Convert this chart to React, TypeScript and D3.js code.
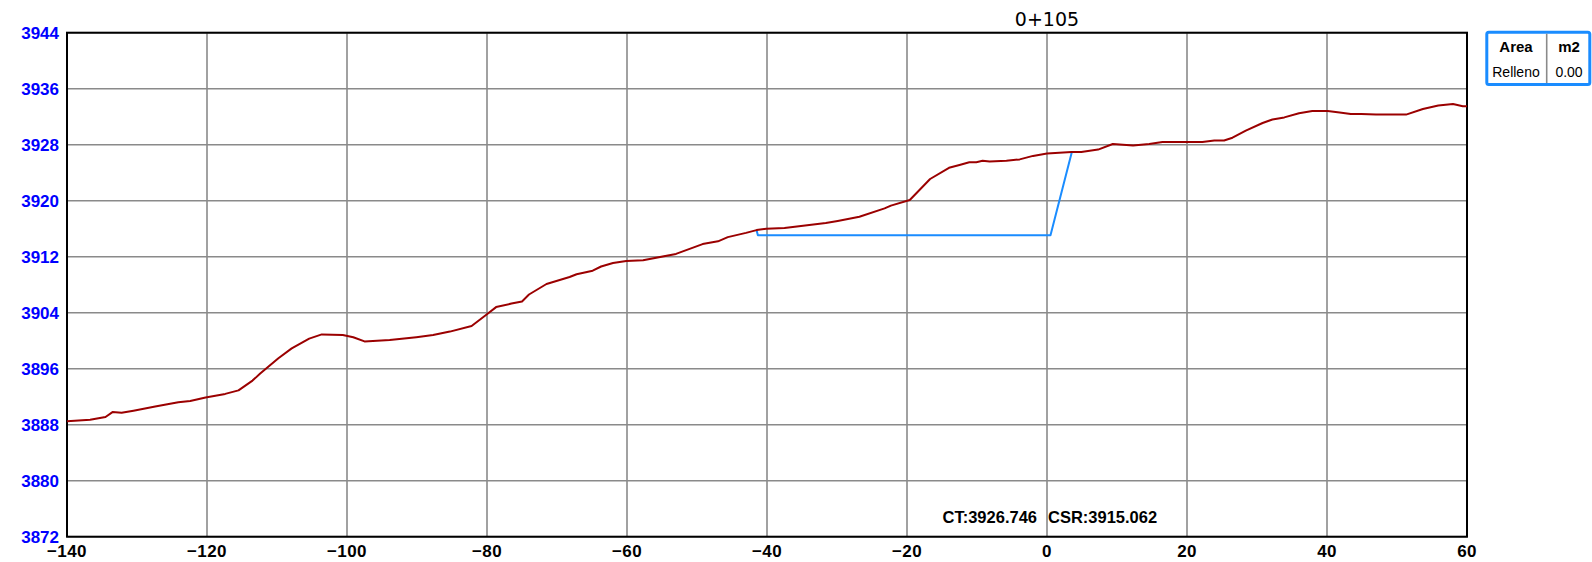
import React from "react";
import * as d3 from "d3";

const xTicks = [-140, -120, -100, -80, -60, -40, -20, 0, 20, 40, 60];
const yTicks = [3872, 3880, 3888, 3896, 3904, 3912, 3920, 3928, 3936, 3944];

const groundX = [
  -140, -136.7, -134.5, -133.5, -132.2, -130.5, -127.4, -124.1, -122.4, -120.2,
  -117.4, -115.5, -113.5, -112.4, -109.8, -107.9, -105.4, -103.6, -100.6, -99.1,
  -97.5, -93.9, -90.1, -87.7, -85.3, -82.2, -80.1, -78.7, -76.5, -75.0,
  -74.0, -71.5, -68.2, -67.2, -64.9, -63.7, -62.0, -60.1, -57.7, -53.0,
  -49.2, -47.0, -45.6, -43.0, -41.5, -40.1, -37.5, -31.6, -29.9, -26.8,
  -23.2, -22.3, -19.6, -16.7, -14.0, -12.5, -11.1, -10.1, -9.2, -8.2,
  -5.8, -3.9, -2.0, 0.0, 3.5, 4.9, 7.3, 9.4, 12.3, 14.6,
  16.5, 20.3, 22.2, 23.9, 25.3, 26.5, 28.4, 30.8, 32.2, 33.9,
  36.0, 37.9, 40.1, 41.8, 43.4, 44.9, 47.0, 51.3, 53.7, 55.9,
  58.0, 59.4, 60.0,
];
const groundY = [
  3888.5, 3888.7, 3889.1, 3889.8, 3889.7, 3890.0, 3890.6, 3891.2, 3891.4, 3891.9,
  3892.4, 3892.9, 3894.3, 3895.3, 3897.5, 3898.9, 3900.3, 3900.9, 3900.8, 3900.5,
  3899.9, 3900.1, 3900.5, 3900.8, 3901.3, 3902.1, 3903.7, 3904.8, 3905.3, 3905.6,
  3906.6, 3908.1, 3909.1, 3909.5, 3910.0, 3910.6, 3911.1, 3911.4, 3911.5, 3912.4,
  3913.8, 3914.2, 3914.8, 3915.4, 3915.8, 3916.0, 3916.1, 3916.8, 3917.1, 3917.7,
  3918.9, 3919.3, 3920.1, 3923.1, 3924.7, 3925.1, 3925.5, 3925.5, 3925.7, 3925.6,
  3925.7, 3925.9, 3926.4, 3926.75, 3926.95, 3926.95, 3927.3, 3928.1, 3927.9, 3928.1,
  3928.4, 3928.4, 3928.4, 3928.6, 3928.6, 3929.0, 3930.0, 3931.1, 3931.6, 3931.9,
  3932.5, 3932.8, 3932.8, 3932.6, 3932.4, 3932.4, 3932.3, 3932.3, 3933.1, 3933.6,
  3933.8, 3933.5, 3933.5,
];

const subX = [-41.5, -41.3, 0.5, 3.55];
const subY = [3915.8, 3915.062, 3915.062, 3926.95];

const titleText = "0+105";
const ctText = "CT:3926.746";
const csrText = "CSR:3915.062";
const legendHeader = ["Area", "m2"];
const legendRow = ["Relleno", "0.00"];

const W = 1592;
const H = 562;
const L = 67;
const R = 1467;
const T = 32.7;
const B = 536.7;

export default function App() {
  const x = d3.scaleLinear().domain([-140, 60]).range([L, R]);
  const y = d3.scaleLinear().domain([3872, 3944]).range([B, T]);

  const line = d3
    .line<number>()
    .x((_, i) => x(groundX[i]))
    .y((d) => y(d));
  const groundPath = line(groundY) || "";
  const subLine = d3
    .line<number>()
    .x((_, i) => x(subX[i]))
    .y((d) => y(d));
  const subPath = subLine(subY) || "";

  const fmt = (v: number) => (v < 0 ? "\u2212" + Math.abs(v) : String(v));
  const font = "'Liberation Sans', Arial, sans-serif";

  return (
    <svg
      width={W}
      height={H}
      style={{ position: "absolute", left: 0, top: 0, display: "block", background: "#fff" }}
    >
      <rect x={0} y={0} width={W} height={H} fill="#fff" />
      {/* grid */}
      {xTicks.map((t) => (
        <line key={"gx" + t} x1={x(t)} x2={x(t)} y1={T} y2={B} stroke="#8a8a8a" strokeWidth={1.6} />
      ))}
      {yTicks.map((t) => (
        <line key={"gy" + t} x1={L} x2={R} y1={y(t)} y2={y(t)} stroke="#8a8a8a" strokeWidth={1.6} />
      ))}
      <rect x={L} y={T} width={R - L} height={B - T} fill="none" stroke="#000" strokeWidth={2} />

      {/* y labels */}
      {yTicks.map((t) => (
        <text
          key={"yl" + t}
          x={59}
          y={y(t) + 6}
          textAnchor="end"
          fontFamily={font}
          fontWeight="bold"
          fontSize={17}
          fill="#0000ff"
        >
          {t}
        </text>
      ))}
      {/* x labels */}
      {xTicks.map((t) => (
        <text
          key={"xl" + t}
          x={x(t)}
          y={557}
          textAnchor="middle"
          fontFamily={font}
          fontWeight="bold"
          fontSize={17}
          letterSpacing={0.4}
          fill="#000"
        >
          {fmt(t)}
        </text>
      ))}

      {/* lines */}
      <path d={subPath} fill="none" stroke="#1a8cff" strokeWidth={2} strokeLinejoin="round" />
      <path d={groundPath} fill="none" stroke="#9b0000" strokeWidth={2} strokeLinejoin="round" />

      {/* title */}
      <text
        x={x(0)}
        y={26}
        textAnchor="middle"
        fontFamily="'DejaVu Sans', sans-serif"
        fontSize={19}
        fill="#000"
      >
        {titleText}
      </text>

      {/* CT / CSR */}
      <text x={1037} y={523} textAnchor="end" fontFamily={font} fontWeight="bold" fontSize={16.5} fill="#000">
        {ctText}
      </text>
      <text x={1048} y={523} textAnchor="start" fontFamily={font} fontWeight="bold" fontSize={16.5} fill="#000">
        {csrText}
      </text>

      {/* legend */}
      <rect x={1486.8} y={32.2} width={103} height={52.3} rx={2} fill="#fff" stroke="#1a8cff" strokeWidth={3} />
      <line x1={1546.7} x2={1546.7} y1={33.7} y2={83} stroke="#8a8a8a" strokeWidth={1.6} />
      <text x={1516} y={52} textAnchor="middle" fontFamily={font} fontWeight="bold" fontSize={15} fill="#000">
        {legendHeader[0]}
      </text>
      <text x={1569} y={52} textAnchor="middle" fontFamily={font} fontWeight="bold" fontSize={15} fill="#000">
        {legendHeader[1]}
      </text>
      <text x={1516} y={77} textAnchor="middle" fontFamily={font} fontSize={14} fill="#000">
        {legendRow[0]}
      </text>
      <text x={1569} y={77} textAnchor="middle" fontFamily={font} fontSize={14} fill="#000">
        {legendRow[1]}
      </text>
    </svg>
  );
}
